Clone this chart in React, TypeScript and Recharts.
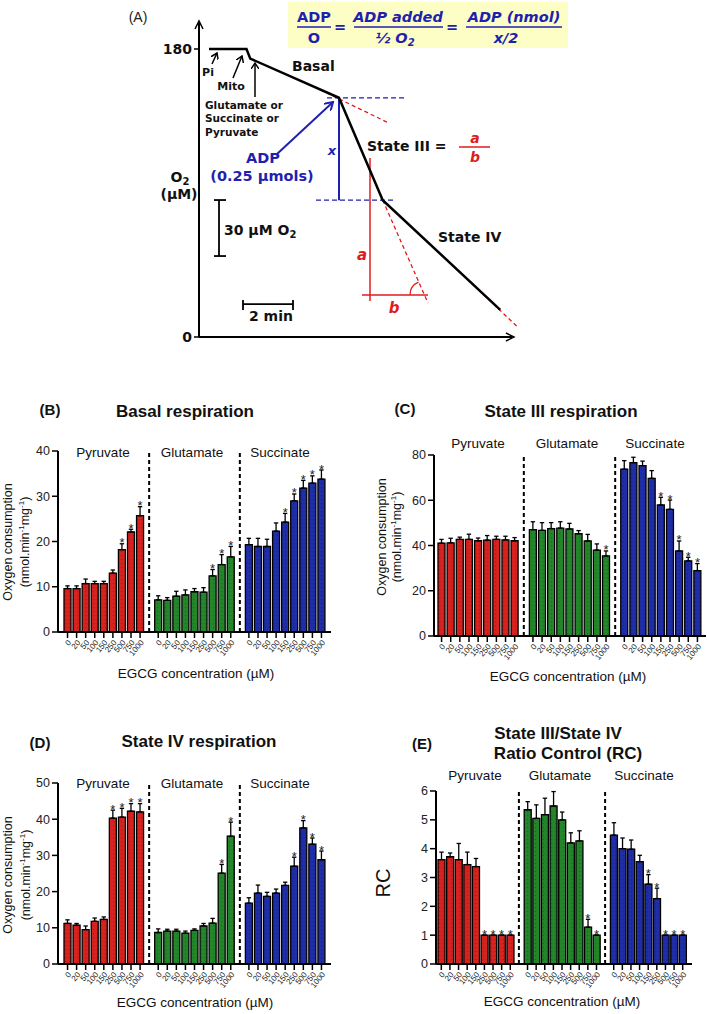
import React from "react";
import {
  Bar,
  Cell,
  ComposedChart,
  ErrorBar,
  Line,
  LineChart,
  ReferenceLine,
  XAxis,
  YAxis,
} from "recharts";

const ARIAL = "'Liberation Sans', Arial, sans-serif";
const VERDANA = "'DejaVu Sans', Verdana, sans-serif";
const BLUE = "#1f1fb0";
const RED = "#e21b1b";

// shared categories
const concentrations = ["0", "20", "50", "100", "150", "250", "500", "750", "1000"];
const substrates = ["Pyruvate", "Glutamate", "Succinate"];
const substrateColors = ["#d6231f", "#24862b", "#1f2ea6"];
const substrateDots = ["#8a130f", "#12561a", "#0f176a"];

// (A) oxygen trace, time in min, O2 in µM
const traceTime = [0.4, 1.9, 2.05, 5.6, 7.35, 12.05];
const traceO2 = [180, 180, 174, 149.5, 85.5, 17];

// (B) basal respiration, rows = pyruvate / glutamate / succinate
const basalMean = [
  [9.6, 9.6, 10.7, 10.7, 10.7, 13.0, 18.2, 22.1, 25.7],
  [7.1, 7.0, 7.9, 8.2, 8.9, 8.8, 12.4, 14.9, 16.6],
  [19.3, 18.9, 18.9, 22.3, 24.3, 29.0, 31.8, 32.9, 33.8],
];
const basalErr = [
  [0.6, 0.6, 1.0, 0.5, 0.5, 0.7, 1.3, 0.6, 2.0],
  [0.9, 0.6, 1.1, 1.1, 0.7, 1.0, 1.4, 2.2, 2.3],
  [1.4, 1.8, 1.6, 1.8, 1.9, 1.5, 1.7, 1.6, 2.0],
];
const basalStars = [[6, 7, 8], [6, 7, 8], [4, 5, 6, 7, 8]];

// (C) state III
const state3Mean = [
  [41.0, 41.2, 42.7, 42.7, 42.1, 42.4, 42.7, 42.5, 42.1],
  [47.0, 46.7, 47.5, 47.7, 47.3, 45.2, 42.0, 38.0, 35.4],
  [73.7, 76.6, 75.3, 69.7, 57.9, 56.0, 37.6, 33.2, 28.9],
];
const state3Err = [
  [1.7, 2.0, 1.0, 2.3, 1.2, 2.0, 1.4, 1.6, 1.4],
  [3.5, 3.4, 2.6, 2.8, 2.5, 1.4, 2.9, 2.7, 2.2],
  [3.8, 2.4, 2.0, 3.4, 3.4, 4.1, 4.4, 1.6, 3.1],
];
const state3Stars = [[], [8], [4, 5, 6, 7, 8]];

// (D) state IV
const state4Mean = [
  [11.2, 10.7, 9.5, 11.8, 12.3, 40.3, 40.6, 42.2, 42.0],
  [8.7, 9.1, 9.1, 8.5, 9.3, 10.5, 11.3, 25.1, 35.3],
  [16.8, 19.6, 18.7, 19.6, 21.7, 27.0, 37.6, 33.1, 28.8],
];
const state4Err = [
  [1.0, 0.5, 1.0, 0.9, 0.7, 2.2, 2.4, 2.1, 2.3],
  [1.0, 0.5, 0.5, 0.6, 0.4, 0.7, 1.3, 2.4, 3.9],
  [1.5, 2.2, 1.1, 1.1, 0.9, 2.5, 2.0, 1.7, 2.4],
];
const state4Stars = [[5, 6, 7, 8], [7, 8], [5, 6, 7, 8]];

// (E) respiratory control ratio
const rcMean = [
  [3.62, 3.72, 3.62, 3.45, 3.38, 1.0, 1.0, 1.0, 1.0],
  [5.35, 5.05, 5.18, 5.48, 5.0, 4.2, 4.27, 1.28, 1.0],
  [4.47, 4.0, 3.98, 3.55, 2.77, 2.27, 1.0, 1.0, 1.0],
];
const rcErr = [
  [0.26, 0.13, 0.56, 0.43, 0.28, 0, 0, 0, 0],
  [0.28, 0.47, 0.57, 0.5, 0.27, 0.35, 0.35, 0.27, 0],
  [0.43, 0.37, 0.32, 0.22, 0.33, 0.36, 0, 0, 0],
];
const rcStars = [[5, 6, 7, 8], [7, 8], [4, 5, 6, 7, 8]];

type Row = {
  key: string;
  group: number;
  v?: number;
  e?: [number, number];
  star?: number | null;
};

function buildRows(mean: number[][], err: number[][], stars: number[][]): Row[] {
  const rows: Row[] = [];
  mean.forEach((vals, g) => {
    if (g > 0) rows.push({ key: `gap${g}`, group: -1, star: null });
    vals.forEach((v, i) => {
      rows.push({
        key: `${g}-${i}`,
        group: g,
        v,
        e: [0, err[g][i]],
        star: stars[g].includes(i) ? v + err[g][i] : null,
      });
    });
  });
  return rows;
}

function Txt(props: {
  x: number;
  y: number;
  children: React.ReactNode;
  size?: number;
  bold?: boolean;
  rotate?: number;
  font?: string;
}) {
  const { x, y, children, size = 13, bold = false, rotate = 0, font = ARIAL } = props;
  return (
    <div
      style={{
        position: "absolute",
        left: x,
        top: y,
        transform: `translate(-50%, -50%) rotate(${rotate}deg)`,
        whiteSpace: "nowrap",
        fontSize: size,
        fontWeight: bold ? 700 : 400,
        fontFamily: font,
        color: "#111",
        lineHeight: 1,
      }}
    >
      {children}
    </div>
  );
}

const ConcTick = (props: any) => {
  const { x, y, payload } = props;
  const key: string = String(payload.value);
  if (key.startsWith("gap")) return <g />;
  const label = concentrations[Number(key.split("-")[1])];
  return (
    <g transform={`translate(${x},${y})`}>
      <line x1={0} x2={0} y1={1} y2={6} stroke="#000" strokeWidth={1.5} />
      <text
        transform="translate(2,9) rotate(-50)"
        textAnchor="end"
        dy="0.35em"
        fontSize={8}
        fontFamily={ARIAL}
        fill="#222"
      >
        {label}
      </text>
    </g>
  );
};

const StarDot = (props: any) => {
  const { cx, cy, payload, index } = props;
  if (payload == null || payload.star == null || cy == null || cx == null) return <g key={`s${index}`} />;
  return (
    <text key={`s${index}`} x={cx} y={cy + 3.5} textAnchor="middle" fontSize={13} fontFamily={ARIAL} fill="#222">
      *
    </text>
  );
};

type PanelProps = {
  rows: Row[];
  left: number;
  top: number;
  width: number;
  height: number;
  x0: number;
  x1: number;
  y0: number;
  y1: number;
  domain: [number, number];
  ticks: number[];
  padL: number;
  padR: number;
};

function BarPanel(p: PanelProps) {
  const yw = 30;
  const xh = 28;
  const margin = {
    top: p.y0 - p.top,
    left: p.x0 - p.left - yw,
    right: p.left + p.width - p.x1,
    bottom: p.top + p.height - p.y1 - xh,
  };
  return (
    <div style={{ position: "absolute", left: p.left, top: p.top }}>
      <ComposedChart width={p.width} height={p.height} data={p.rows} margin={margin} barCategoryGap={1}>
        <XAxis
          dataKey="key"
          type="category"
          interval={0}
          height={xh}
          tickSize={0}
          tickMargin={0}
          tickLine={false}
          tick={<ConcTick />}
          axisLine={{ stroke: "#000", strokeWidth: 2 }}
          padding={{ left: p.padL, right: p.padR }}
        />
        <YAxis
          type="number"
          width={yw}
          domain={p.domain}
          ticks={p.ticks}
          allowDataOverflow
          interval={0}
          tickSize={6}
          tickMargin={2}
          axisLine={{ stroke: "#000", strokeWidth: 2 }}
          tickLine={{ stroke: "#000", strokeWidth: 1.5 }}
          tick={{ fontSize: 12.5, fill: "#222", fontFamily: ARIAL }}
        />
        <ReferenceLine x="gap1" stroke="#000" strokeWidth={2} strokeDasharray="4 3" />
        <ReferenceLine x="gap2" stroke="#000" strokeWidth={2} strokeDasharray="4 3" />
        <Bar dataKey="v" stroke="#000" strokeWidth={1.3} isAnimationActive={false}>
          {p.rows.map((r) => (
            <Cell key={r.key} fill={r.group >= 0 ? `url(#dots${r.group})` : "none"} />
          ))}
          <ErrorBar dataKey="e" width={2.2} stroke="#000" strokeWidth={1.3} direction="y" />
        </Bar>
        <Line
          dataKey="star"
          stroke="none"
          dot={StarDot}
          activeDot={false}
          isAnimationActive={false}
          legendType="none"
        />
      </ComposedChart>
    </div>
  );
}

function GroupLabels({ xs, y }: { xs: number[]; y: number }) {
  return (
    <>
      {substrates.map((s, i) => (
        <Txt key={s} x={xs[i]} y={y} size={13.5}>
          {s}
        </Txt>
      ))}
    </>
  );
}

function OxygenLabel({ x1, x2, y }: { x1: number; x2: number; y: number }) {
  return (
    <>
      <Txt x={x1} y={y} size={12.5} rotate={-90}>
        Oxygen consumption
      </Txt>
      <Txt x={x2} y={y} size={12.5} rotate={-90}>
        (nmol.min<sup style={{ fontSize: 8 }}>-1</sup>mg<sup style={{ fontSize: 8 }}>-1</sup>)
      </Txt>
    </>
  );
}

function TracePanel() {
  const data = traceTime.map((t, i) => ({ t, o2: traceO2[i] }));
  const seg = (a: [number, number], b: [number, number]) => [
    { x: a[0], y: a[1] },
    { x: b[0], y: b[1] },
  ];
  const redDash = { stroke: RED, strokeWidth: 1.3, strokeDasharray: "4 3", ifOverflow: "visible" as const };
  const blueDash = { stroke: BLUE, strokeWidth: 1.3, strokeDasharray: "5 3", ifOverflow: "visible" as const };
  const blk = { stroke: "#000", strokeWidth: 1.8, ifOverflow: "visible" as const };
  const vb = { fontFamily: VERDANA, fontWeight: 700 };
  return (
    <>
      <div
        style={{
          position: "absolute",
          left: 288,
          top: 2,
          width: 280,
          height: 46,
          background: "#fdfdc6",
        }}
      />
      <div style={{ position: "absolute", left: 0, top: 0 }}>
        <LineChart width={560} height={345} data={data} margin={{ top: 23, right: 48, bottom: 7, left: 159 }}>
          <XAxis
            dataKey="t"
            type="number"
            domain={[0, 12.52]}
            height={1}
            tick={false}
            tickLine={false}
            axisLine={{ stroke: "#000", strokeWidth: 2 }}
          />
          <YAxis
            type="number"
            width={40}
            domain={[0, 196.25]}
            ticks={[0, 180]}
            interval={0}
            tickSize={5}
            tickMargin={2}
            axisLine={{ stroke: "#000", strokeWidth: 2 }}
            tickLine={{ stroke: "#000", strokeWidth: 1.5 }}
            tick={{ fontSize: 14, fontWeight: 700, fill: "#111", fontFamily: VERDANA }}
          />
          <ReferenceLine segment={seg([4.6, 156.4], [7.56, 134])} {...redDash} />
          <ReferenceLine segment={seg([7.35, 85.5], [9.16, 21.25])} {...redDash} />
          <ReferenceLine segment={seg([10.56, 38.7], [12.76, 6])} {...redDash} />
          <ReferenceLine segment={seg([5.12, 149.5], [8.28, 149.5])} {...blueDash} />
          <ReferenceLine segment={seg([4.68, 85.5], [7.84, 85.5])} {...blueDash} />
          <ReferenceLine segment={seg([5.6, 85.5], [5.6, 149.5])} stroke={BLUE} strokeWidth={2} ifOverflow="visible" />
          <ReferenceLine segment={seg([6.84, 111.9], [6.84, 22.5])} stroke={RED} strokeWidth={1.5} ifOverflow="visible" />
          <ReferenceLine segment={seg([6.52, 26.25], [9.16, 26.25])} stroke={RED} strokeWidth={1.5} ifOverflow="visible" />
          <ReferenceLine segment={seg([0.8, 50.6], [0.8, 85.6])} {...blk} />
          <ReferenceLine segment={seg([0.6, 85.6], [1.08, 85.6])} {...blk} />
          <ReferenceLine segment={seg([0.6, 50.6], [1.08, 50.6])} {...blk} />
          <ReferenceLine segment={seg([1.76, 20.6], [3.76, 20.6])} {...blk} />
          <ReferenceLine segment={seg([1.76, 16.9], [1.76, 23.1])} {...blk} />
          <ReferenceLine segment={seg([3.76, 16.9], [3.76, 23.1])} {...blk} />
          <Line
            dataKey="o2"
            type="linear"
            stroke="#000"
            strokeWidth={2.5}
            dot={false}
            activeDot={false}
            isAnimationActive={false}
          />
        </LineChart>
      </div>
      <svg
        width={709}
        height={345}
        style={{ position: "absolute", left: 0, top: 0, pointerEvents: "none" }}
      >
        <defs>
          <marker id="headK" markerWidth="8" markerHeight="8" refX="6" refY="4" orient="auto" markerUnits="userSpaceOnUse">
            <path d="M0,0 L6,4 L0,8" fill="none" stroke="#000" strokeWidth="1.5" />
          </marker>
          <marker id="headB" markerWidth="10" markerHeight="10" refX="8" refY="5" orient="auto" markerUnits="userSpaceOnUse">
            <path d="M0,0 L8,5 L0,10" fill="none" stroke={BLUE} strokeWidth="2" />
          </marker>
        </defs>
        <text x={138} y={17} textAnchor="middle" dominantBaseline="central" fontSize={14} fontFamily={ARIAL} fill="#222">
          (A)
        </text>
        {/* axis arrow heads */}
        <path d="M195,29 L199,21 L203,29" fill="none" stroke="#000" strokeWidth={1.5} />
        <path d="M506,333 L514,337 L506,341" fill="none" stroke="#000" strokeWidth={1.5} />

        {/* formula */}
        <g fill={BLUE} {...vb} fontSize={14.5} textAnchor="middle" dominantBaseline="central">
          <text x={314} y={17}>ADP</text>
          <text x={314} y={38}>O</text>
          <text x={340} y={27}>=</text>
          <text x={398} y={17} fontStyle="italic">ADP added</text>
          <text x={395} y={38} fontStyle="italic">
            ½ O<tspan fontSize={10} dy={4}>2</tspan>
          </text>
          <text x={452} y={27}>=</text>
          <text x={514} y={17} fontStyle="italic">ADP (nmol)</text>
          <text x={506} y={38} fontStyle="italic">x/2</text>
        </g>
        <line x1={297} x2={331} y1={27} y2={27} stroke={BLUE} strokeWidth={1.5} />
        <line x1={354} x2={443} y1={27} y2={27} stroke={BLUE} strokeWidth={1.5} />
        <line x1={466} x2={562} y1={27} y2={27} stroke={BLUE} strokeWidth={1.5} />

        {/* additions */}
        <g fill="#111" {...vb} dominantBaseline="central">
          <text x={208} y={72} fontSize={11} textAnchor="middle">Pi</text>
          <text x={231} y={86} fontSize={11} textAnchor="middle">Mito</text>
          <text x={205} y={105} fontSize={10.5}>Glutamate or</text>
          <text x={205} y={118} fontSize={10.5}>Succinate or</text>
          <text x={205} y={132} fontSize={10.5}>Pyruvate</text>
          <text x={292} y={66} fontSize={14}>Basal</text>
          <text x={367} y={146} fontSize={14}>State III =</text>
          <text x={438} y={237} fontSize={14}>State IV</text>
          <text x={180} y={177} fontSize={14} textAnchor="middle">
            O<tspan fontSize={10} dy={4}>2</tspan>
          </text>
          <text x={179} y={194} fontSize={14} textAnchor="middle">(µM)</text>
          <text x={224} y={230} fontSize={14}>
            30 µM O<tspan fontSize={10} dy={4}>2</tspan>
          </text>
          <text x={249} y={316} fontSize={14}>2 min</text>
        </g>
        <line x1={212} y1={64} x2={217} y2={53} stroke="#000" strokeWidth={1.5} markerEnd="url(#headK)" />
        <line x1={233} y1={78} x2={242} y2={56} stroke="#000" strokeWidth={1.5} markerEnd="url(#headK)" />
        <line x1={255} y1={97} x2={255} y2={63} stroke="#000" strokeWidth={1.5} markerEnd="url(#headK)" />

        {/* ADP */}
        <g fill={BLUE} {...vb} textAnchor="middle" dominantBaseline="central">
          <text x={263} y={158} fontSize={14.5}>ADP</text>
          <text x={262} y={176} fontSize={14.5}>(0.25 µmols)</text>
          <text x={332} y={150} fontSize={13} fontStyle="italic">x</text>
        </g>
        <line x1={277} y1={154} x2={333} y2={102} stroke={BLUE} strokeWidth={2} markerEnd="url(#headB)" />

        {/* State III fraction */}
        <g fill={RED} {...vb} fontStyle="italic" textAnchor="middle" dominantBaseline="central">
          <text x={475} y={138} fontSize={14}>a</text>
          <text x={475} y={157} fontSize={14}>b</text>
          <text x={362} y={255} fontSize={15}>a</text>
          <text x={394} y={308} fontSize={15}>b</text>
        </g>
        <line x1={459} x2={490} y1={147} y2={147} stroke={RED} strokeWidth={1.5} />
        <path d="M410,295 A14 14 0 0 1 418.4,282.2" fill="none" stroke={RED} strokeWidth={1.3} />
      </svg>
    </>
  );
}

export default function App() {
  const basalRows = buildRows(basalMean, basalErr, basalStars);
  const state3Rows = buildRows(state3Mean, state3Err, state3Stars);
  const state4Rows = buildRows(state4Mean, state4Err, state4Stars);
  const rcRows = buildRows(rcMean, rcErr, rcStars);

  return (
    <div
      style={{
        position: "absolute",
        left: 0,
        top: 0,
        width: 709,
        height: 1014,
        background: "#fff",
        overflow: "hidden",
        fontFamily: ARIAL,
      }}
    >
      <svg width={0} height={0} style={{ position: "absolute" }}>
        <defs>
          {substrateColors.map((c, i) => (
            <pattern key={c} id={`dots${i}`} width={4} height={4} patternUnits="userSpaceOnUse">
              <rect width={4} height={4} fill={c} />
              <rect x={1} y={1} width={1.2} height={1.2} fill={substrateDots[i]} opacity={0.55} />
            </pattern>
          ))}
        </defs>
      </svg>

      <TracePanel />

      {/* (B) */}
      <Txt x={50} y={409} size={15} bold>(B)</Txt>
      <Txt x={185} y={411} size={17} bold>Basal respiration</Txt>
      <OxygenLabel x1={8} x2={25} y={542} />
      <BarPanel
        rows={basalRows}
        left={0}
        top={430}
        width={340}
        height={240}
        x0={58}
        x1={331}
        y0={451}
        y1={632}
        domain={[0, 40]}
        ticks={[0, 10, 20, 30, 40]}
        padL={5}
        padR={5}
      />
      <GroupLabels xs={[103, 192, 280]} y={453} />
      <Txt x={196} y={674} size={13.5}>EGCG concentration (µM)</Txt>

      {/* (C) */}
      <Txt x={405} y={408} size={15} bold>(C)</Txt>
      <Txt x={561} y={411} size={17} bold>State III respiration</Txt>
      <OxygenLabel x1={382} x2={397} y={537} />
      <BarPanel
        rows={state3Rows}
        left={354}
        top={440}
        width={355}
        height={240}
        x0={434}
        x1={706}
        y0={455}
        y1={636}
        domain={[0, 80]}
        ticks={[0, 20, 40, 60, 80]}
        padL={3}
        padR={4}
      />
      <GroupLabels xs={[478, 567, 655]} y={444} />
      <Txt x={568} y={677} size={13.5}>EGCG concentration (µM)</Txt>

      {/* (D) */}
      <Txt x={40} y={742} size={15} bold>(D)</Txt>
      <Txt x={199} y={741} size={17} bold>State IV respiration</Txt>
      <OxygenLabel x1={8} x2={26} y={875} />
      <BarPanel
        rows={state4Rows}
        left={0}
        top={760}
        width={340}
        height={240}
        x0={58}
        x1={331}
        y0={783}
        y1={964}
        domain={[0, 50]}
        ticks={[0, 10, 20, 30, 40, 50]}
        padL={5}
        padR={5}
      />
      <GroupLabels xs={[103, 192, 280]} y={784} />
      <Txt x={195} y={1003} size={13.5}>EGCG concentration (µM)</Txt>

      {/* (E) */}
      <Txt x={422} y={743} size={15} bold>(E)</Txt>
      <Txt x={558} y={733} size={17} bold>State III/State IV</Txt>
      <Txt x={568} y={753} size={17} bold>Ratio Control (RC)</Txt>
      <Txt x={383} y={883} size={20} rotate={-90}>RC</Txt>
      <BarPanel
        rows={rcRows}
        left={354}
        top={770}
        width={355}
        height={230}
        x0={436}
        x1={692}
        y0={791}
        y1={964}
        domain={[0, 6]}
        ticks={[0, 1, 2, 3, 4, 5, 6]}
        padL={1}
        padR={5}
      />
      <GroupLabels xs={[475, 560, 644]} y={776} />
      <Txt x={562} y={1002} size={13.5}>EGCG concentration (µM)</Txt>
    </div>
  );
}
